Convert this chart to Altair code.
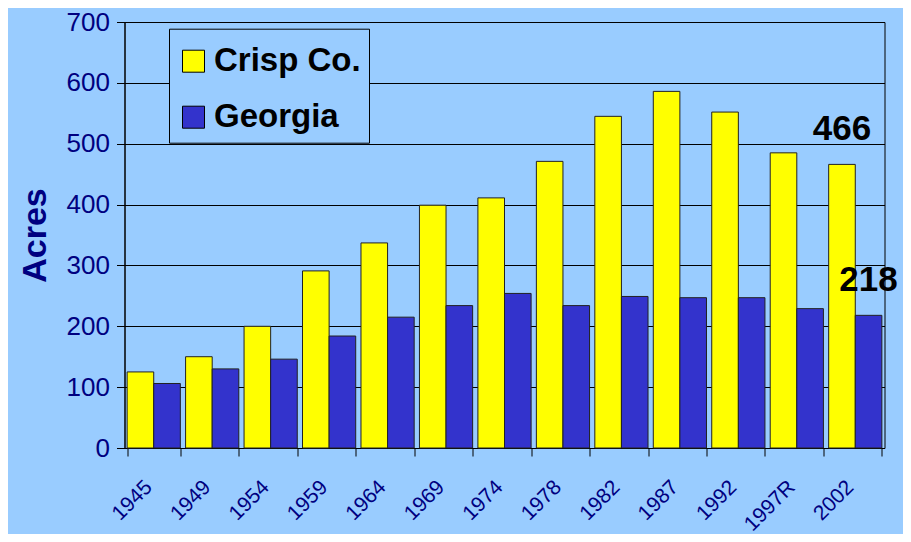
import altair as alt
import pandas as pd

years = ["1945", "1949", "1954", "1959", "1964", "1969", "1974", "1978",
         "1982", "1987", "1992", "1997R", "2002"]
crisp = [125, 150, 200, 291, 337, 399, 411, 471, 545, 586, 552, 485, 466]
georgia = [106, 130, 146, 184, 215, 234, 254, 234, 249, 247, 247, 229, 218]
series_names = ["Crisp Co.", "Georgia"]
series_colors = ["#FFFF00", "#3333CC"]

ann_years = ["2002", "2002"]
ann_series = ["Crisp Co.", "Georgia"]
ann_values = [466, 218]
ann_labels = ["466", "218"]

rows = []
for y, c, g in zip(years, crisp, georgia):
    rows.append({"year": y, "series": "Crisp Co.", "value": c})
    rows.append({"year": y, "series": "Georgia", "value": g})
df = pd.DataFrame(rows)
ann = pd.DataFrame({"year": ann_years, "series": ann_series,
                    "value": ann_values, "label": ann_labels})

NAVY = "#000080"
BG = "#99CCFF"
FONT = "Liberation Sans"

x_enc = alt.X("year:N", sort=years,
              scale=alt.Scale(paddingInner=0.09, paddingOuter=0.045),
              axis=alt.Axis(title=None, labelAngle=315, labelAlign="right",
                            labelBaseline="top", labelFontSize=21,
                            labelColor=NAVY, labelFont=FONT, labelPadding=20,
                            labelOffset=-13,
                            tickBand="extent", tickSize=8, tickColor="black",
                            domainColor="black", grid=False))
xo_enc = alt.XOffset("series:N", sort=series_names)
y_enc = alt.Y("value:Q", scale=alt.Scale(domain=[0, 700], nice=False),
              axis=alt.Axis(title="Acres", values=list(range(0, 701, 100)),
                            titleFontSize=34, titleFont=FONT,
                            titleFontWeight="bold", titleColor=NAVY,
                            titlePadding=14, labelFontSize=26, labelFont=FONT,
                            labelColor=NAVY, labelPadding=7, tickSize=8,
                            tickColor="black", domainColor="black",
                            gridColor="black", gridOpacity=1, grid=True))

bars = alt.Chart(df).mark_bar(stroke="#222222", strokeWidth=1).encode(
    x=x_enc,
    xOffset=xo_enc,
    y=y_enc,
    color=alt.Color("series:N",
                    scale=alt.Scale(domain=series_names, range=series_colors),
                    legend=alt.Legend(title=" ", titleFontSize=8,
                                      titlePadding=0,
                                      orient="none", legendX=44.5,
                                      legendY=6.7, fillColor=BG,
                                      strokeColor="black", padding=8,
                                      symbolType="square", symbolSize=484,
                                      symbolStrokeColor="black",
                                      symbolStrokeWidth=1, labelFont=FONT,
                                      labelFontSize=33, labelFontWeight="bold",
                                      labelColor="black", labelOffset=4,
                                      rowPadding=22, labelLimit=400)),
)

labels = alt.Chart(ann).mark_text(font=FONT, fontSize=35, fontWeight="bold",
                                  color="black", baseline="alphabetic",
                                  dy=-24).encode(
    x=alt.X("year:N", sort=years),
    xOffset=alt.XOffset("series:N", sort=series_names),
    y=alt.Y("value:Q"),
    text="label:N",
)

chart = alt.layer(bars, labels).properties(
    width=760, height=426, background=BG,
    autosize=alt.AutoSizeParams(type="none"),
    padding={"left": 116.5, "top": 14, "right": 18.5, "bottom": 86},
).configure_view(stroke="black", strokeWidth=1)

chart.save("out.html", embed_options={"renderer": "svg", "actions": False})
